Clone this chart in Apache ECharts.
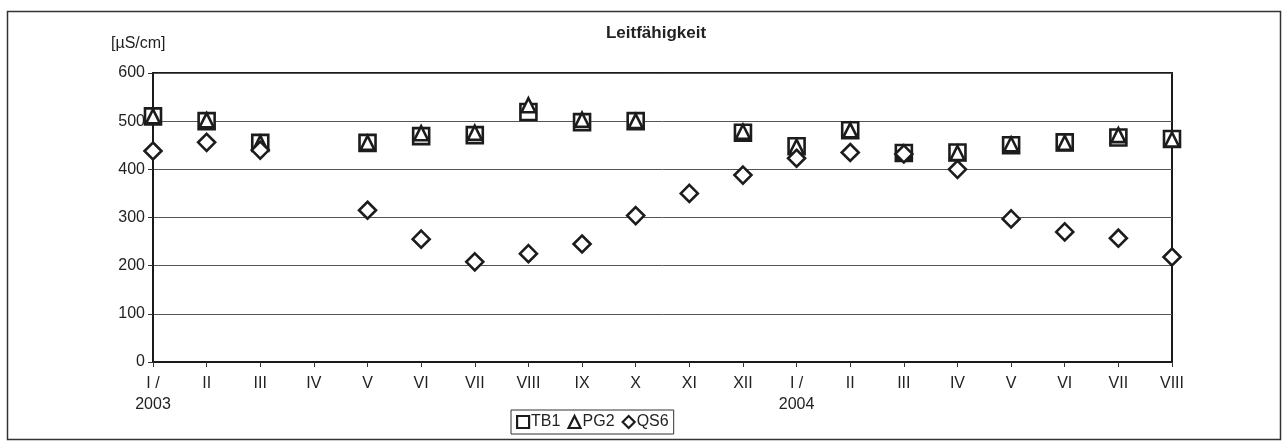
<!DOCTYPE html>
<html>
<head>
<meta charset="utf-8">
<script src="https://cdn.jsdelivr.net/npm/echarts@6/dist/echarts.min.js"></script>
<style>
html,body{margin:0;padding:0;background:#fff;}
#c{width:1288px;height:446px;}
</style>
</head>
<body>
<div id="c"></div>
<script>
const categories = ['I /\n2003','II','III','IV','V','VI','VII','VIII','IX','X','XI','XII','I /\n2004','II','III','IV','V','VI','VII','VIII'];
const yTicks = [0,100,200,300,400,500,600];
const TB1 = [510,500,455,null,455,469,471,519,498,500,null,476,448,481,434,435,450,456,466,463];
const PG2 = [510,502,455,null,455,475,476,533,503,500,null,478,447,481,434,434,452,455,471,462];
const QS6 = [438,456,440,null,315,255,208,225,245,304,350,388,423,435,432,400,297,270,257,218];
const seriesNames = ['TB1','PG2','QS6'];

const chart = echarts.init(document.getElementById('c'), null, {renderer:'canvas'});
const font = 'Liberation Sans, Arial, sans-serif';
const ink = '#1c1c1c';
function sc(name, data, symbol, size){
  return {
    name: name, type: 'scatter', data: data, symbol: symbol, symbolSize: size,
    itemStyle: {color: '#fff', borderColor: ink, borderWidth: 2.6, opacity: 1},
    emphasis: {disabled: true}
  };
}
chart.setOption({
  animation: false,
  backgroundColor: '#fff',
  title: {
    text: 'Leitfähigkeit', left: 651, top: 20, textAlign: 'center',
    textStyle: {fontFamily: font, fontSize: 17, fontWeight: 'bold', color: '#222'}
  },
  graphic: [
    {type: 'rect', shape: {x: 7.5, y: 11.5, width: 1273, height: 428},
     style: {fill: 'none', stroke: '#333', lineWidth: 1.5}, silent: true, z: -1},
    {type: 'text', left: 111, top: 36,
     style: {text: '[µS/cm]', font: '16px Liberation Sans, Arial, sans-serif', fill: '#222'}}
  ],
  legend: {
    data: seriesNames, left: 511, top: 410, orient: 'horizontal',
    itemWidth: 12, itemHeight: 12, itemGap: 7,
    borderColor: '#333', borderWidth: 1, padding: [4, 5, 4, 5],
    textStyle: {fontFamily: font, fontSize: 16, color: '#222', padding: [0, 0, 0, -3]},
    itemStyle: {color: '#fff', borderColor: ink, borderWidth: 2.2}
  },
  grid: {left: 153, right: 116, top: 73, bottom: 84, show: true, borderColor: '#1a1a1a', borderWidth: 2, backgroundColor: 'transparent'},
  xAxis: {
    type: 'category', data: categories, boundaryGap: false,
    axisLine: {show: true, lineStyle: {color: '#1a1a1a', width: 2}},
    axisTick: {show: true, inside: false, length: 5, alignWithLabel: true, lineStyle: {color: '#333'}},
    axisLabel: {interval: 0, fontFamily: font, fontSize: 16, color: '#222', margin: 11, lineHeight: 21, verticalAlign: 'top'},
    splitLine: {show: false}
  },
  yAxis: {
    type: 'value', min: 0, max: 600, interval: 100,
    axisLine: {show: true, lineStyle: {color: '#1a1a1a', width: 2}},
    axisTick: {show: true, inside: false, length: 5, lineStyle: {color: '#333'}},
    axisLabel: {fontFamily: font, fontSize: 16, color: '#222', margin: 8,
      formatter: function(v){ return yTicks.indexOf(v) >= 0 ? String(v) : ''; }},
    splitLine: {show: true, lineStyle: {color: '#555', width: 1}}
  },
  series: [
    sc('TB1', TB1, 'rect', 16),
    sc('PG2', PG2, 'triangle', 14),
    sc('QS6', QS6, 'diamond', 17)
  ]
});
</script>
</body>
</html>
